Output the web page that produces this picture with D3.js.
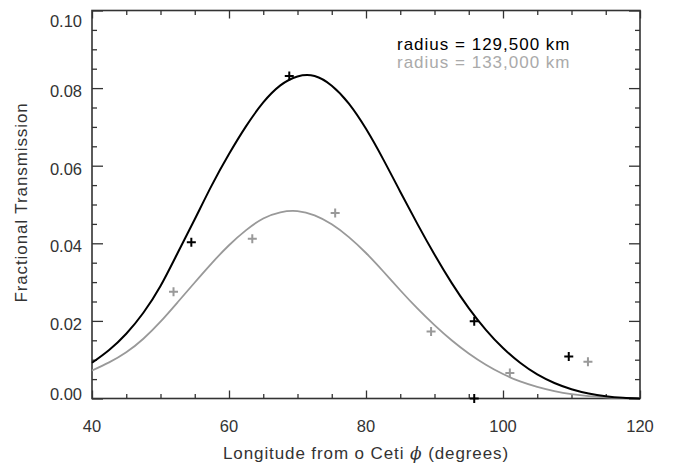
<!DOCTYPE html>
<html>
<head>
<meta charset="utf-8">
<script src="https://cdn.jsdelivr.net/npm/d3@7"></script>
<style>
  body { margin: 0; background: #fff; }
  text { font-family: "Liberation Sans", Arial, sans-serif; }
</style>
</head>
<body>
<svg id="chart" width="673" height="466"></svg>
<script>
// model curves, sampled every 2.5 degrees
const longitudes = [40, 42.5, 45, 47.5, 50, 52.5, 55, 57.5, 60, 62.5, 65, 67.5, 70, 72.5, 75, 77.5, 80,
  82.5, 85, 87.5, 90, 92.5, 95, 97.5, 100, 102.5, 105, 107.5, 110, 112.5, 115, 117.5, 120];
const model129500 = [0.0092, 0.0125, 0.0167, 0.0221, 0.0290, 0.0375, 0.0462, 0.0550, 0.0630, 0.0702, 0.0763,
  0.0807, 0.0830, 0.0831, 0.0806, 0.0760, 0.0695, 0.0617, 0.0533, 0.0450, 0.0371, 0.0298, 0.0233, 0.0177,
  0.0130, 0.0092, 0.0062, 0.0040, 0.0024, 0.0013, 0.0006, 0.0002, 0.0000];
const model133000 = [0.0072, 0.0093, 0.0119, 0.0154, 0.0198, 0.0248, 0.0299, 0.0349, 0.0395, 0.0434, 0.0464,
  0.0480, 0.0483, 0.0472, 0.0449, 0.0416, 0.0375, 0.0328, 0.0279, 0.0232, 0.0189, 0.0150, 0.0116, 0.0087,
  0.0063, 0.0044, 0.0030, 0.0019, 0.0011, 0.0006, 0.0003, 0.0001, 0.0000];

// measured points
const obsX129500 = [54.5, 68.8, 95.8, 95.8, 109.6];
const obsY129500 = [0.0403, 0.0831, 0.0199, 0.0000, 0.0108];
const obsX133000 = [51.9, 63.4, 75.5, 89.5, 101.0, 112.4];
const obsY133000 = [0.0275, 0.0412, 0.0478, 0.0173, 0.0066, 0.0095];

const legendLabels = ["radius = 129,500 km", "radius = 133,000 km"];
const xMajor = [40, 60, 80, 100, 120];
const yMajor = [0, 0.02, 0.04, 0.06, 0.08, 0.10];

const svg = d3.select("#chart");
const mLeft = 92, mRight = 640, mTop = 10.5, mBottom = 398.5;

const x = d3.scaleLinear().domain([40, 120]).range([mLeft, mRight]);
const y = d3.scaleLinear().domain([0, 0.10]).range([mBottom, mTop]);

const axisColor = "#333";
const xMinor = d3.range(40, 121, 5).filter(v => !xMajor.includes(v));
const yMinor = d3.range(0, 21).map(i => i * 0.005).filter((v, i) => i % 4 !== 0);

// frame + inward ticks on all four sides (IDL style)
function addAxis(axis, tx, ty) {
  const g = svg.append("g").attr("transform", `translate(${tx},${ty})`).call(axis);
  g.select(".domain").remove();
  g.selectAll("line").attr("stroke", axisColor).attr("stroke-width", 1.3);
  g.selectAll("text").remove();
  return g;
}
addAxis(d3.axisBottom(x).tickValues(xMajor).tickSize(-8), 0, mBottom);
addAxis(d3.axisBottom(x).tickValues(xMinor).tickSize(-4.5), 0, mBottom);
addAxis(d3.axisTop(x).tickValues(xMajor).tickSize(-8), 0, mTop);
addAxis(d3.axisTop(x).tickValues(xMinor).tickSize(-4.5), 0, mTop);
addAxis(d3.axisLeft(y).tickValues(yMajor).tickSize(-11), mLeft, 0);
addAxis(d3.axisLeft(y).tickValues(yMinor).tickSize(-5), mLeft, 0);
addAxis(d3.axisRight(y).tickValues(yMajor).tickSize(-11), mRight, 0);
addAxis(d3.axisRight(y).tickValues(yMinor).tickSize(-5), mRight, 0);

svg.append("rect")
  .attr("x", mLeft).attr("y", mTop)
  .attr("width", mRight - mLeft).attr("height", mBottom - mTop)
  .attr("fill", "none").attr("stroke", axisColor).attr("stroke-width", 1.6);

// tick labels
svg.append("g").selectAll("text").data(xMajor).join("text")
  .attr("x", d => x(d)).attr("y", 432)
  .attr("text-anchor", "middle")
  .attr("font-size", 16.5).attr("fill", "#333")
  .text(d => d);

svg.append("g").selectAll("text").data(yMajor).join("text")
  .attr("x", 82).attr("y", (d, i) => y(d) + (i === 0 ? 1 : i === yMajor.length - 1 ? 16 : 9))
  .attr("text-anchor", "end")
  .attr("font-size", 16.5).attr("fill", "#333")
  .text(d => d3.format(".2f")(d));

// axis titles
svg.append("text")
  .attr("x", (mLeft + mRight) / 2).attr("y", 459)
  .attr("text-anchor", "middle")
  .attr("font-size", 17).attr("letter-spacing", 0.9).attr("fill", "#333")
  .call(t => {
    t.append("tspan").text("Longitude from o Ceti ");
    t.append("tspan").attr("font-family", "DejaVu Serif").attr("font-style", "italic").text("\u03D5");
    t.append("tspan").text(" (degrees)");
  });

svg.append("text")
  .attr("transform", `translate(27,${(mTop + mBottom) / 2 - 2}) rotate(-90)`)
  .attr("text-anchor", "middle")
  .attr("font-size", 17).attr("letter-spacing", 0.9).attr("fill", "#333")
  .text("Fractional Transmission");

// model curves
const line = (vals) => d3.line()
  .x((d, i) => x(longitudes[i]))
  .y(d => Math.min(y(d), mBottom))
  .curve(d3.curveNatural)(vals);

svg.append("path").attr("d", line(model133000))
  .attr("fill", "none").attr("stroke", "#999").attr("stroke-width", 1.8);
svg.append("path").attr("d", line(model129500))
  .attr("fill", "none").attr("stroke", "#000").attr("stroke-width", 2);

// plus markers
function plusses(xs, ys, color) {
  const s = 4.5;
  svg.append("g").selectAll("path").data(xs).join("path")
    .attr("d", (d, i) => {
      const px = x(d), py = y(ys[i]);
      return `M${px - s},${py}H${px + s}M${px},${py - s}V${py + s}`;
    })
    .attr("stroke", color).attr("stroke-width", 2).attr("fill", "none");
}
plusses(obsX133000, obsY133000, "#999");
plusses(obsX129500, obsY129500, "#000");

// legend
svg.append("g").selectAll("text").data(legendLabels).join("text")
  .attr("x", 397).attr("y", (d, i) => 49.5 + i * 18)
  .attr("font-size", 17).attr("letter-spacing", 1.0)
  .attr("fill", (d, i) => i === 0 ? "#000" : "#aaa")
  .text(d => d);
</script>
</body>
</html>
